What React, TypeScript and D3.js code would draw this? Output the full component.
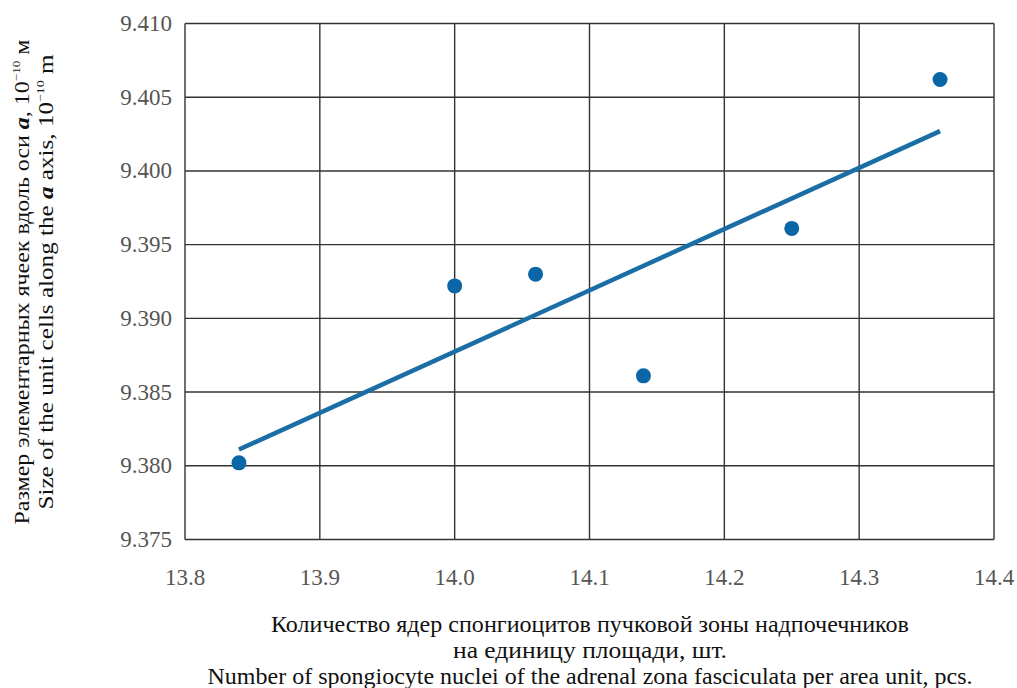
import * as d3 from "d3";
import { useEffect, useRef } from "react";

// measured points
const nucleiCount = [13.84, 14.0, 14.06, 14.14, 14.25, 14.36];
const cellSize = [9.3802, 9.3922, 9.393, 9.3861, 9.3961, 9.4062];

// fitted trend line ends, as drawn
const trendX = [13.84, 14.36];
const trendY = [9.3811, 9.4027];

const xTicks = [13.8, 13.9, 14.0, 14.1, 14.2, 14.3, 14.4];
const yTicks = [9.375, 9.38, 9.385, 9.39, 9.395, 9.4, 9.405, 9.41];

const xTitle = [
  "Количество ядер спонгиоцитов пучковой зоны надпочечников",
  "на единицу площади, шт.",
  "Number of spongiocyte nuclei of the adrenal zona fasciculata per area unit, pcs.",
];
const xTitleWidth = [638, 274, 765];

const App = () => {
  const svgRef = useRef<SVGSVGElement>(null);

  useEffect(() => {
    const svg = d3.select(svgRef.current);
    svg.selectAll("*").remove();

    const left = 185,
      right = 994,
      top = 23.5,
      bottom = 539.5;

    const x = d3.scaleLinear().domain([13.8, 14.4]).range([left, right]);
    const y = d3.scaleLinear().domain([9.375, 9.41]).range([bottom, top]);

    const font = "Liberation Serif, Times New Roman, serif";

    // grid
    const grid = svg.append("g").attr("stroke", "#333").attr("stroke-width", 1.4);
    grid
      .selectAll("line.v")
      .data(xTicks)
      .enter()
      .append("line")
      .attr("x1", (d) => x(d))
      .attr("x2", (d) => x(d))
      .attr("y1", top)
      .attr("y2", bottom);
    grid
      .selectAll("line.h")
      .data(yTicks)
      .enter()
      .append("line")
      .attr("x1", left)
      .attr("x2", right)
      .attr("y1", (d) => y(d))
      .attr("y2", (d) => y(d));

    // tick labels
    svg
      .append("g")
      .selectAll("text")
      .data(yTicks)
      .enter()
      .append("text")
      .attr("x", 172)
      .attr("y", (d) => y(d) + 7.5)
      .attr("text-anchor", "end")
      .style("font-family", font)
      .attr("font-size", 23)
      .attr("fill", "#555")
      .text((d) => d3.format(".3f")(d));

    svg
      .append("g")
      .selectAll("text")
      .data(xTicks)
      .enter()
      .append("text")
      .attr("x", (d) => x(d))
      .attr("y", 585)
      .attr("text-anchor", "middle")
      .style("font-family", font)
      .attr("font-size", 23)
      .attr("fill", "#555")
      .text((d) => d3.format(".1f")(d));

    // trend line
    const line = d3
      .line<number>()
      .x((d) => x(d))
      .y((d, i) => y(trendY[i]));
    svg
      .append("path")
      .attr("d", line(trendX))
      .attr("fill", "none")
      .attr("stroke", "#1a6ea5")
      .attr("stroke-width", 4.5);

    // points
    svg
      .append("g")
      .selectAll("circle")
      .data(nucleiCount)
      .enter()
      .append("circle")
      .attr("cx", (d) => x(d))
      .attr("cy", (d, i) => y(cellSize[i]))
      .attr("r", 7.5)
      .attr("fill", "#0b66a8");

    // x title
    svg
      .append("g")
      .selectAll("text")
      .data(xTitle)
      .enter()
      .append("text")
      .attr("x", 590)
      .attr("y", (d, i) => 632 + i * 26)
      .attr("text-anchor", "middle")
      .style("font-family", font)
      .attr("font-size", 23)
      .attr("fill", "#111")
      .attr("textLength", (d, i) => xTitleWidth[i])
      .attr("lengthAdjust", "spacingAndGlyphs")
      .text((d) => d);

    // y title (two rotated lines, with bold-italic a and superscripts)
    const yt = svg
      .append("g")
      .attr("transform", "translate(0, 282) rotate(-90)")
      .style("font-family", font)
      .attr("font-size", 20)
      .attr("fill", "#111");

    const l1 = yt
      .append("text")
      .attr("x", 0)
      .attr("y", 29)
      .attr("text-anchor", "middle")
      .attr("textLength", 485)
      .attr("lengthAdjust", "spacingAndGlyphs");
    l1.append("tspan").text("Размер элементарных ячеек вдоль оси ");
    l1.append("tspan").attr("font-weight", "bold").attr("font-style", "italic").text("a");
    l1.append("tspan").text(", 10");
    l1.append("tspan").attr("font-size", 11).attr("dy", -9).text("−10");
    l1.append("tspan").attr("dy", 9).text(" м");

    const l2 = yt
      .append("text")
      .attr("x", 0)
      .attr("y", 53)
      .attr("text-anchor", "middle")
      .attr("textLength", 455)
      .attr("lengthAdjust", "spacingAndGlyphs");
    l2.append("tspan").text("Size of the unit cells along the ");
    l2.append("tspan").attr("font-weight", "bold").attr("font-style", "italic").text("a");
    l2.append("tspan").text(" axis, 10");
    l2.append("tspan").attr("font-size", 11).attr("dy", -9).text("−10");
    l2.append("tspan").attr("dy", 9).text(" m");
  }, []);

  return (
    <svg
      ref={svgRef}
      width={1017}
      height={688}
      style={{ position: "absolute", left: 0, top: 0, background: "#fff" }}
    />
  );
};

export default App;
